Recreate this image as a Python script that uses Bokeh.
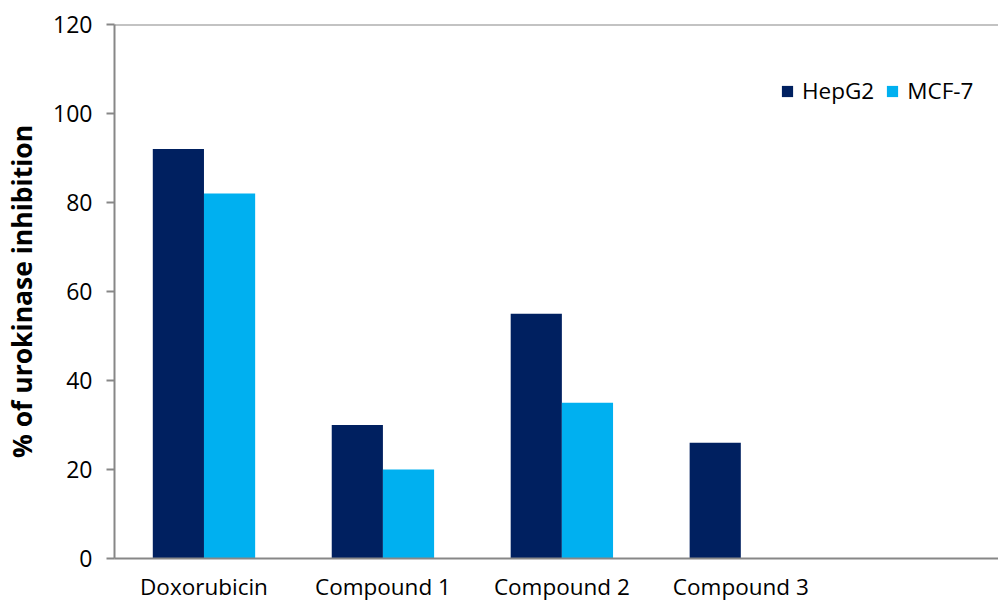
from bokeh.plotting import figure
from bokeh.models import Range1d, FixedTicker, Legend, LegendItem, Span, ColumnDataSource
from bokeh.embed import file_html
from bokeh.resources import INLINE

categories = ["Doxorubicin", "Compound 1", "Compound 2", "Compound 3"]
hepg2 = [92, 30, 55, 26]
mcf7 = [82, 20, 35, 0]
y_ticks = [0, 20, 40, 60, 80, 100, 120]

HEP_COLOR = "#002060"
MCF_COLOR = "#00B0F0"
AXIS_COLOR = "#878787"
FONT = "Open Sans"

centers = [i + 0.5 for i in range(len(categories))]
bar_w = 0.286
src_h = ColumnDataSource(dict(x=[c - bar_w / 2 for c in centers], top=hepg2))
src_m = ColumnDataSource(dict(x=[c + bar_w / 2 for c in centers], top=mcf7))

p = figure(width=998, height=605, output_backend="svg", toolbar_location=None,
           x_range=Range1d(0, 4.94), y_range=Range1d(0, 120),
           min_border_left=114, min_border_top=24, min_border_bottom=47, min_border_right=0)
p.outline_line_color = None
p.xgrid.visible = False
p.ygrid.visible = False

r_h = p.vbar(x="x", top="top", width=bar_w, source=src_h, fill_color=HEP_COLOR, line_color=None)
r_m = p.vbar(x="x", top="top", width=bar_w, source=src_m, fill_color=MCF_COLOR, line_color=None)

p.add_layout(Span(location=120, dimension="width", line_color=AXIS_COLOR, line_width=2))

# x axis
p.xaxis.ticker = FixedTicker(ticks=centers)
p.xaxis.major_label_overrides = {c: name for c, name in zip(centers, categories)}
p.xaxis.major_tick_line_color = None
p.xaxis.minor_tick_line_color = None
p.xaxis.major_tick_out = 0
p.xaxis.major_tick_in = 0
p.xaxis.minor_tick_out = 0
p.xaxis.minor_tick_in = 0
p.xaxis.axis_line_color = AXIS_COLOR
p.xaxis.axis_line_width = 2
p.xaxis.major_label_text_font = FONT
p.xaxis.major_label_text_font_size = "22.5px"
p.xaxis.major_label_text_color = "#000000"
p.xaxis.major_label_standoff = 12

# y axis
p.yaxis.ticker = FixedTicker(ticks=y_ticks)
p.yaxis.major_tick_out = 8
p.yaxis.major_tick_in = 0
p.yaxis.major_tick_line_color = AXIS_COLOR
p.yaxis.major_tick_line_width = 2
p.yaxis.minor_tick_line_color = None
p.yaxis.axis_line_color = AXIS_COLOR
p.yaxis.axis_line_width = 2
p.yaxis.major_label_text_font = FONT
p.yaxis.major_label_text_font_size = "23px"
p.yaxis.major_label_text_color = "#000000"
p.yaxis.major_label_standoff = 14
p.yaxis.axis_label = "% of urokinase inhibition"
p.yaxis.axis_label_text_font = FONT
p.yaxis.axis_label_text_font_size = "26.5px"
p.yaxis.axis_label_text_font_style = "bold"
p.yaxis.axis_label_text_color = "#000000"
p.yaxis.axis_label_standoff = 10

legend = Legend(items=[LegendItem(label="HepG2", renderers=[r_h]),
                       LegendItem(label="MCF-7", renderers=[r_m])],
                orientation="horizontal", location=(666, 452),
                border_line_color=None, background_fill_alpha=0,
                glyph_width=14, glyph_height=14, label_standoff=8, spacing=11,
                padding=0, margin=0,
                label_text_font=FONT, label_text_font_size="22.5px", label_text_color="#000000")
p.add_layout(legend)

open("out.html", "w").write(file_html(p, INLINE))
